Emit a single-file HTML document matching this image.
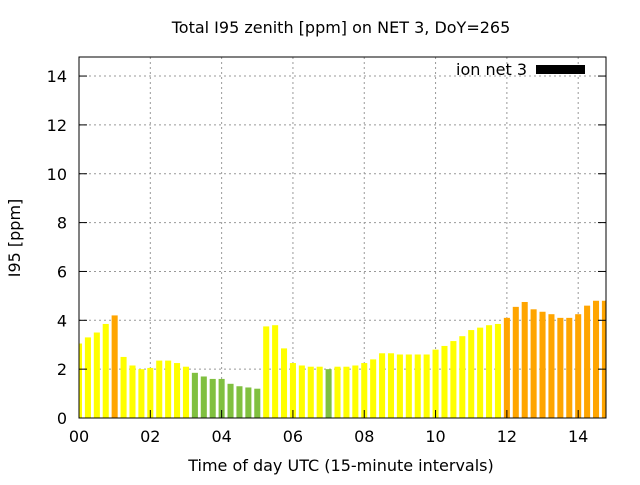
<!DOCTYPE html>
<html><head><meta charset="utf-8"><style>
body{margin:0;background:#fff}
svg text{font-family:"DejaVu Sans","Liberation Sans",sans-serif;font-size:16px;fill:#000}
</style></head><body>
<svg id="chart" width="640" height="480">
<g id="grid"></g><g id="bars"></g><g id="axes"></g>
<text x="341" y="33" text-anchor="middle">Total I95 zenith [ppm] on NET 3, DoY=265</text>
<text x="341" y="471" text-anchor="middle">Time of day UTC (15-minute intervals)</text>
<text transform="translate(20,238) rotate(-90)" text-anchor="middle">I95 [ppm]</text>
<g>
<text x="527" y="75" text-anchor="end">ion net 3</text>
<rect x="536" y="65" width="49" height="9" fill="#000"/>
</g>
</svg>
<script>
const values=[3.05,3.3,3.5,3.85,4.2,2.5,2.15,2.0,2.05,2.35,2.35,2.25,2.1,1.85,1.7,1.6,1.6,1.4,1.3,1.25,1.2,3.75,3.8,2.85,2.25,2.15,2.1,2.1,2.0,2.1,2.1,2.15,2.25,2.4,2.65,2.65,2.6,2.6,2.6,2.6,2.8,2.95,3.15,3.35,3.6,3.7,3.8,3.85,4.1,4.55,4.75,4.45,4.35,4.25,4.1,4.1,4.25,4.6,4.8,4.8];
const levels=["y","y","y","y","o","y","y","y","y","y","y","y","y","g","g","g","g","g","g","g","g","y","y","y","y","y","y","y","g","y","y","y","y","y","y","y","y","y","y","y","y","y","y","y","y","y","y","y","o","o","o","o","o","o","o","o","o","o","o","o"];
const yTicks=[0,2,4,6,8,10,12,14];
const xTicks=[0,2,4,6,8,10,12,14];
const xTickLabels=["00","02","04","06","08","10","12","14"];
const L=79,R=606,T=57,B=418,XMAX=14.78,YMAX=14.78;
const colors={y:"#ffff00",o:"#ffa500",g:"#80c040"};
const NS="http://www.w3.org/2000/svg";
const sx=h=>L+h/XMAX*(R-L), sy=v=>B-v/YMAX*(B-T);
function mk(tag,attrs,parent){const e=document.createElementNS(NS,tag);for(const k in attrs)e.setAttribute(k,attrs[k]);document.getElementById(parent).appendChild(e);return e;}
yTicks.forEach(v=>{const y=sy(v);
 if(v>0){const g=mk("line",{x1:L,x2:R,y1:y,y2:y,stroke:"#999","stroke-dasharray":"2,3"},"grid");}
 const t=mk("line",{x1:L,x2:L+8,y1:y,y2:y,stroke:"#000"},"axes");
 const t2=mk("line",{x1:R-8,x2:R,y1:y,y2:y,stroke:"#000"},"axes");
 const l=mk("text",{x:L-12,y:y+6,"text-anchor":"end"},"axes");l.textContent=v;});
xTicks.forEach((h,i)=>{const x=sx(h);
 if(h>0){const g=mk("line",{x1:x,x2:x,y1:T,y2:B,stroke:"#999","stroke-dasharray":"2,3"},"grid");}
 const t=mk("line",{x1:x,x2:x,y1:B,y2:B-8,stroke:"#000"},"axes");
 const l=mk("text",{x:x,y:B+24,"text-anchor":"middle"},"axes");l.textContent=xTickLabels[i];});
const bw=(sx(0.25)-sx(0))*0.68;
values.forEach((v,i)=>{const c=sx(i*0.25);let x0=Math.max(L,c-bw/2),x1=Math.min(R,c+bw/2);
 const b=mk("rect",{x:x0,y:sy(v),width:x1-x0,height:B-sy(v),fill:colors[levels[i]]},"bars");
 
 });
const f=mk("rect",{x:L,y:T,width:R-L,height:B-T,fill:"none",stroke:"#000","stroke-width":1},"axes");


</script>
</body></html>
